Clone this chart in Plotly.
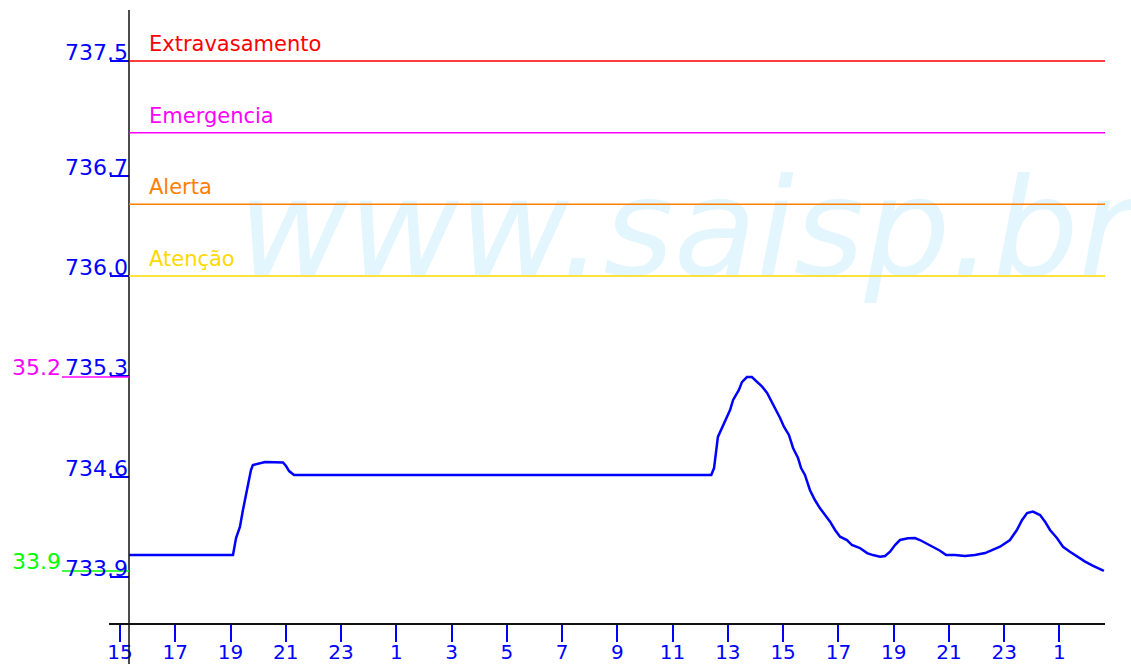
import plotly.graph_objects as go

# ---- data (hours since 15:00 of the first day, reservoir level in m) ----
hours = [0.33, 4.09, 4.20, 4.34, 4.45, 4.52, 4.67, 4.74, 4.81, 4.99, 5.25, 5.90, 6.01, 6.12, 6.30,
         21.40, 21.50, 21.64, 21.90, 22.08, 22.19, 22.40, 22.51, 22.69, 22.87, 23.05, 23.24, 23.42,
         23.56, 23.74, 23.89, 24.03, 24.21, 24.36, 24.54, 24.65, 24.79, 24.97, 25.15, 25.33, 25.52,
         25.70, 25.88, 26.06, 26.31, 26.49, 26.78, 27.04, 27.25, 27.51, 27.69, 27.87, 28.05, 28.23,
         28.52, 28.77, 28.95, 29.14, 29.39, 29.68, 29.90, 30.22, 30.58, 30.94, 31.31, 31.60, 31.85,
         32.21, 32.46, 32.65, 32.83, 33.04, 33.30, 33.48, 33.66, 33.91, 34.13, 34.38, 34.64, 34.93,
         35.22, 35.47, 35.61]
levels = [734.053, 734.053, 734.172, 734.249, 734.367, 734.437, 734.577, 734.646, 734.681, 734.688,
          734.702, 734.699, 734.674, 734.639, 734.612,
          734.612, 734.660, 734.877, 734.995, 735.065, 735.135, 735.205, 735.260, 735.295, 735.295,
          735.263, 735.228, 735.184, 735.135, 735.065, 735.009, 734.949, 734.891, 734.800, 734.730,
          734.660, 734.612, 734.507, 734.437, 734.381, 734.332, 734.286, 734.228, 734.181, 734.158,
          734.123, 734.102, 734.067, 734.053, 734.042, 734.046, 734.076, 734.123, 734.158, 734.170,
          734.172, 734.158, 734.139, 734.111, 734.083, 734.053, 734.053, 734.046, 734.053, 734.067,
          734.088, 734.111, 734.158, 734.228, 734.298, 734.346, 734.356, 734.332, 734.286, 734.228,
          734.172, 734.111, 734.076, 734.042, 734.007, 733.977, 733.954, 733.942]

x_tick_vals = [0, 2, 4, 6, 8, 10, 12, 14, 16, 18, 20, 22, 24, 26, 28, 30, 32, 34]
x_tick_text = ["15", "17", "19", "21", "23", "1", "3", "5", "7", "9", "11", "13",
               "15", "17", "19", "21", "23", "1"]

y_tick_vals = [733.9, 734.6, 735.3, 736.0, 736.7, 737.5]
y_tick_text = ["733.9", "734.6", "735.3", "736.0", "736.7", "737.5"]

threshold_names = ["Extravasamento", "Emergencia", "Alerta", "Atenção"]
threshold_levels = [737.5, 737.0, 736.5, 736.0]
threshold_colors = ["#ff0000", "#ff00ff", "#ff8000", "#ffd800"]

extreme_labels = ["35.2", "33.9"]
extreme_colors = ["#ff00ff", "#00ff00"]

# ---- layout geometry ----
W, H = 1131, 664
ML, MR, MT, MB = 109, 26, 10, 41
PW, PH = W - ML - MR, H - MT - MB
FONT = "DejaVu Sans"
BLUE = "#0000ff"


def px_x(px):
    return (px - ML) / PW


yaxis_pos = px_x(129)

fig = go.Figure()

# watermark (behind everything)
fig.add_trace(go.Scatter(
    x=[4.27], y=[736.244], mode="text", text=["www.saisp.br"],
    textposition="middle right",
    textfont=dict(family=FONT, size=135, color="#e3f5fd", style="italic"),
    cliponaxis=False, hoverinfo="skip", showlegend=False))

# level series
fig.add_trace(go.Scatter(
    x=hours, y=levels, mode="lines",
    line=dict(color=BLUE, width=2.5),
    showlegend=False, hoverinfo="x+y"))

shapes = []
annotations = []

# y axis line extended below the x axis
shapes.append(dict(type="line", xref="paper", yref="paper",
                   x0=yaxis_pos, x1=yaxis_pos, y0=-(MB + 2) / PH, y1=1,
                   line=dict(color="#111111", width=1.5)))

# threshold lines and labels
for name, lvl, col in zip(threshold_names, threshold_levels, threshold_colors):
    shapes.append(dict(type="line", xref="paper", yref="y",
                       x0=yaxis_pos, x1=1, y0=lvl, y1=lvl,
                       line=dict(color=col, width=1.5), layer="above"))
    annotations.append(dict(x=px_x(147), y=lvl, xref="paper", yref="y",
                            text=name, showarrow=False, xanchor="left",
                            yanchor="bottom", yshift=3,
                            font=dict(family=FONT, size=21, color=col)))

# max / min markers on the left
for lab, val, col in zip(extreme_labels, [max(levels), min(levels)], extreme_colors):
    shapes.append(dict(type="line", xref="paper", yref="y",
                       x0=px_x(62), x1=yaxis_pos, y0=val, y1=val,
                       line=dict(color=col, width=1.5)))
    annotations.append(dict(x=px_x(63), y=val, xref="paper", yref="y",
                            text=lab, showarrow=False, xanchor="right",
                            yanchor="bottom", yshift=-5,
                            font=dict(family=FONT, size=22, color=col)))

# y tick labels (sitting on top of the tick marks)
for v, t in zip(y_tick_vals, y_tick_text):
    annotations.append(dict(x=yaxis_pos, y=v, xref="paper", yref="y",
                            text=t, showarrow=False, xanchor="right",
                            yanchor="bottom", yshift=-6, xshift=1,
                            font=dict(family=FONT, size=22, color=BLUE)))

fig.update_layout(
    width=W, height=H, autosize=False,
    margin=dict(l=ML, r=MR, t=MT, b=MB, pad=0, autoexpand=False),
    paper_bgcolor="white", plot_bgcolor="white",
    showlegend=False,
    shapes=shapes, annotations=annotations,
    xaxis=dict(range=[-0.398, 35.65], tickmode="array",
               tickvals=x_tick_vals, ticktext=x_tick_text,
               ticks="outside", ticklen=17, tickwidth=1.5, tickcolor=BLUE,
               tickfont=dict(family=FONT, size=20, color=BLUE),
               ticklabelstandoff=-7, automargin=False,
               showline=True, linecolor="#111111", linewidth=1.5,
               showgrid=False, zeroline=False),
    yaxis=dict(range=[733.579, 737.856], anchor="free", position=yaxis_pos,
               tickmode="array", tickvals=y_tick_vals,
               ticks="outside", ticklen=19, tickwidth=1.5, tickcolor=BLUE,
               showticklabels=False, showline=False, automargin=False,
               showgrid=False, zeroline=False),
)

fig.write_html("out.html",
               config={"displayModeBar": False},
               post_script="document.body.style.margin='0';"
                           "document.body.style.overflow='hidden';")
